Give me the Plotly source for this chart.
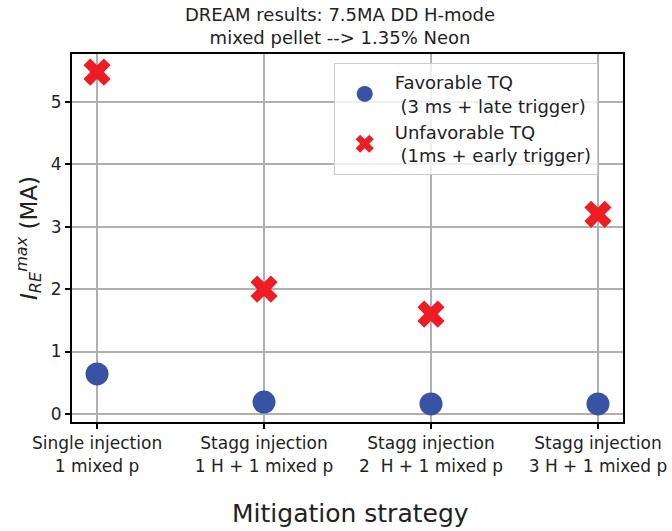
import plotly.graph_objects as go

categories = ["Single injection<br>1 mixed p",
              "Stagg injection<br>1 H + 1 mixed p",
              "Stagg injection<br>2  H + 1 mixed p",
              "Stagg injection<br>3 H + 1 mixed p"]
x_pos = [0, 1, 2, 3]
favorable = [0.64, 0.19, 0.16, 0.16]
unfavorable = [5.48, 2.0, 1.6, 3.2]
fav_name = "Favorable TQ<br> (3 ms + late trigger)"
unfav_name = "Unfavorable TQ<br> (1ms + early trigger)"
title_text = "DREAM results: 7.5MA DD H-mode<br>mixed pellet --> 1.35% Neon"
x_title = "Mitigation strategy"
y_title = "<i>I</i><sub><i>RE</i></sub><sup><i>max</i></sup> (MA)"

font = "DejaVu Sans"
ink = "#222222"
fig = go.Figure()
fig.add_trace(go.Scatter(x=x_pos, y=favorable, mode="markers", name=fav_name,
                         marker=dict(symbol="circle", size=23, color="#3953a4")))
fig.add_trace(go.Scatter(x=x_pos, y=unfavorable, mode="markers", name=unfav_name,
                         marker=dict(symbol="x", size=24, color="#ee1c25")))

axis_common = dict(showline=True, linecolor="black", linewidth=2, mirror=True,
                   showgrid=True, gridcolor="#b0b0b0", gridwidth=1.5,
                   ticks="outside", ticklen=5, tickwidth=1.5, tickcolor="black",
                   zeroline=False, automargin=False,
                   tickfont=dict(family=font, size=17, color=ink))

fig.update_layout(
    width=672, height=531,
    margin=dict(l=72, r=49, t=54, b=109),
    paper_bgcolor="white", plot_bgcolor="white",
    font=dict(family=font, color=ink),
    xaxis=dict(**axis_common, range=[-0.15, 3.15], tickmode="array",
               tickvals=x_pos, ticktext=categories),
    yaxis=dict(**axis_common, range=[-0.13, 5.77], tickvals=[0, 1, 2, 3, 4, 5]),
    legend=dict(x=0.475, y=0.9755, xanchor="left", yanchor="top",
                bgcolor="rgba(255,255,255,0.8)", bordercolor="#cccccc", borderwidth=1,
                font=dict(family=font, size=18, color=ink), itemsizing="trace",
                itemwidth=50, tracegroupgap=2),
    showlegend=True,
    annotations=[
        dict(text=title_text, xref="paper", yref="paper", x=0.487, y=1,
             xanchor="center", yanchor="bottom", yshift=4, showarrow=False,
             font=dict(family=font, size=18, color=ink)),
        dict(text=x_title, xref="paper", yref="paper", x=0.506, y=0,
             xanchor="center", yanchor="middle", yshift=-91, showarrow=False,
             font=dict(family=font, size=25, color=ink)),
        dict(text=y_title, xref="paper", yref="paper", x=0, y=0.5,
             xanchor="center", yanchor="middle", xshift=-44, textangle=-90,
             showarrow=False, font=dict(family=font, size=23, color=ink)),
    ],
)

fig.write_html("out.html", config={"displayModeBar": False},
               post_script="document.body.style.margin='0';")
